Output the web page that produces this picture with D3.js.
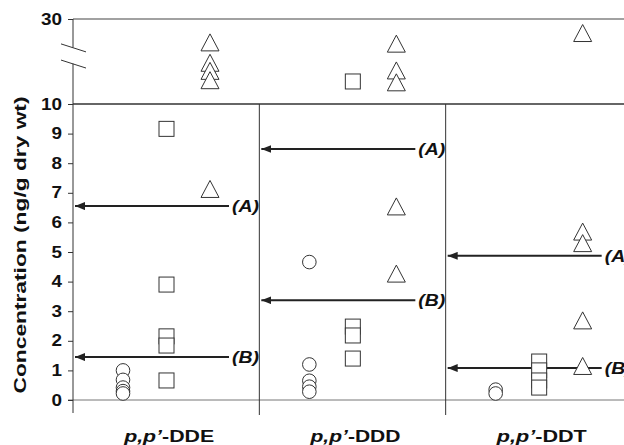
<!DOCTYPE html>
<html>
<head>
<meta charset="utf-8">
<script src="https://cdn.jsdelivr.net/npm/d3@7"></script>
<style>
  html, body { margin: 0; padding: 0; background: #fff; }
  svg { display: block; font-family: 'Liberation Sans', Arial, sans-serif; }
</style>
</head>
<body>
<div id="chart"></div>
<script>
const W = 624, H = 445

// ── Data ──────────────────────────────────────────────────────────────────
const compounds = ['DDE', 'DDD', 'DDT']
const sampleTypes = ['circle', 'square', 'triangle']

const circleValues = [
  [1.0, 0.68, 0.42, 0.3, 0.22],
  [4.66, 1.2, 0.65, 0.45, 0.28],
  [0.35, 0.22]
]
const squareValues = [
  [9.16, 3.9, 2.15, 1.84, 0.66],
  [15.3, 2.48, 2.18, 1.4],
  [1.3, 1.0, 0.66, 0.42]
]
const triangleValues = [
  [24.5, 19.7, 17.8, 15.6, 7.13],
  [24.2, 17.9, 15.1, 6.54, 4.27],
  [26.7, 5.69, 5.3, 2.69, 1.15]
]
const guideA = [6.55, 8.48, 4.87]
const guideB = [1.45, 3.37, 1.08]
const lowTicks = d3.range(0, 11)
const highTicks = [30]

// ── Scales ────────────────────────────────────────────────────────────────
const x = d3.scaleBand().domain(compounds).range([73, 632])
const xInner = d3.scalePoint().domain(sampleTypes).range([50, 137])
const yLow = d3.scaleLinear().domain([0, 10]).range([400, 104])
const yHigh = d3.scaleLinear().domain([10, 30]).range([104, 19])
const y = v => v > 10 ? yHigh(v) : yLow(v)

const svg = d3.select('#chart').append('svg').attr('width', W).attr('height', H)
const ink = '#333'

// ── Frame lines ───────────────────────────────────────────────────────────
const x0 = x.range()[0]
svg.append('line').attr('x1', x0).attr('x2', W).attr('y1', yHigh(30)).attr('y2', yHigh(30))
  .attr('stroke', '#444').attr('stroke-width', 1.2)
svg.append('line').attr('x1', x0).attr('x2', W).attr('y1', yLow(10)).attr('y2', yLow(10))
  .attr('stroke', ink).attr('stroke-width', 1.6)
svg.append('line').attr('x1', x0 - 5).attr('x2', W).attr('y1', yLow(0)).attr('y2', yLow(0))
  .attr('stroke', '#777').attr('stroke-width', 1)

// broken y axis
svg.append('line').attr('x1', x0).attr('x2', x0).attr('y1', yHigh(30)).attr('y2', yHigh(23.3))
  .attr('stroke', ink)
svg.append('line').attr('x1', x0).attr('x2', x0).attr('y1', yHigh(19.5)).attr('y2', yLow(0) + 13)
  .attr('stroke', ink)
;[23.2, 19.4].forEach(v => {
  svg.append('line')
    .attr('x1', x0 - 12).attr('y1', yHigh(v) - 4)
    .attr('x2', x0 + 13).attr('y2', yHigh(v) + 4)
    .attr('stroke', ink).attr('stroke-width', 1)
})

// panel dividers
compounds.slice(1).forEach(c => {
  svg.append('line').attr('x1', x(c)).attr('x2', x(c))
    .attr('y1', yLow(10)).attr('y2', yLow(0) + 15)
    .attr('stroke', ink).attr('stroke-width', 1)
})

// ── Axes ──────────────────────────────────────────────────────────────────
function styleAxis(g) {
  g.select('.domain').remove()
  g.selectAll('.tick line').attr('stroke', ink)
  g.selectAll('.tick text')
    .attr('fill', '#111')
    .style('font-size', '16px')
    .style('font-weight', 'bold')
    .attr('font-family', "'Liberation Sans', Arial, sans-serif")
    .attr('textLength', d => String(d).length * 10.5)
    .attr('lengthAdjust', 'spacingAndGlyphs')
}
svg.append('g').attr('transform', `translate(${x0},0)`)
  .call(d3.axisLeft(yLow).tickValues(lowTicks).tickSize(5).tickPadding(6))
  .call(styleAxis)
svg.append('g').attr('transform', `translate(${x0},0)`)
  .call(d3.axisLeft(yHigh).tickValues(highTicks).tickSize(5).tickPadding(6))
  .call(styleAxis)

svg.append('text')
  .attr('transform', `translate(26,245) rotate(-90)`)
  .attr('text-anchor', 'middle')
  .style('font-size', '16px').style('font-weight', 'bold').attr('fill', '#111')
  .attr('textLength', 297).attr('lengthAdjust', 'spacingAndGlyphs')
  .text('Concentration (ng/g dry wt)')

// category labels
compounds.forEach(c => {
  const t = svg.append('text')
    .attr('x', x(c) + x.bandwidth() / 2 + 3).attr('y', 442)
    .attr('text-anchor', 'middle')
    .style('font-size', '17px').style('font-weight', 'bold').attr('fill', '#111')
    .attr('textLength', 90).attr('lengthAdjust', 'spacingAndGlyphs')
  t.append('tspan').style('font-style', 'italic').text('p,p\u2019')
  t.append('tspan').text('-' + c)
})

// ── Guide arrows ──────────────────────────────────────────────────────────
const defs = svg.append('defs')
defs.append('marker').attr('id', 'head')
  .attr('viewBox', '0 0 10 8').attr('refX', 0).attr('refY', 4)
  .attr('markerWidth', 10).attr('markerHeight', 8).attr('markerUnits', 'userSpaceOnUse')
  .attr('orient', 'auto')
  .append('path').attr('d', 'M0,4L10,0L10,8Z').attr('fill', '#222')

function drawGuide(values, label) {
  compounds.forEach((c, i) => {
    const yy = yLow(values[i])
    svg.append('line')
      .attr('x1', x(c) + 2).attr('x2', x(c) + 156)
      .attr('y1', yy).attr('y2', yy)
      .attr('stroke', '#222').attr('stroke-width', 2)
      .attr('marker-start', 'url(#head)')
    svg.append('text')
      .attr('x', x(c) + 159).attr('y', yy + 6)
      .style('font-size', '16px').style('font-weight', 'bold').style('font-style', 'italic')
      .attr('fill', '#111')
      .attr('textLength', 27).attr('lengthAdjust', 'spacingAndGlyphs')
      .text(label)
  })
}
drawGuide(guideA, '(A)')
drawGuide(guideB, '(B)')

// ── Markers ───────────────────────────────────────────────────────────────
const markerStyle = s => s.attr('fill', '#fff').attr('stroke', ink).attr('stroke-width', 1)

compounds.forEach((c, i) => {
  const cx = t => x(c) + xInner(t)

  svg.selectAll(null).data(circleValues[i]).join('circle')
    .attr('cx', cx('circle')).attr('cy', d => y(d)).attr('r', 6.8)
    .call(markerStyle)

  svg.selectAll(null).data(squareValues[i]).join('rect')
    .attr('x', cx('square') - 7.5).attr('y', d => y(d) - 7.5)
    .attr('width', 15).attr('height', 15)
    .call(markerStyle)

  svg.selectAll(null).data(triangleValues[i]).join('path')
    .attr('d', d => {
      const px = cx('triangle'), py = y(d)
      return `M${px},${py - 8.5}L${px + 9},${py + 8.5}L${px - 9},${py + 8.5}Z`
    })
    .call(markerStyle)
})
</script>
</body>
</html>
